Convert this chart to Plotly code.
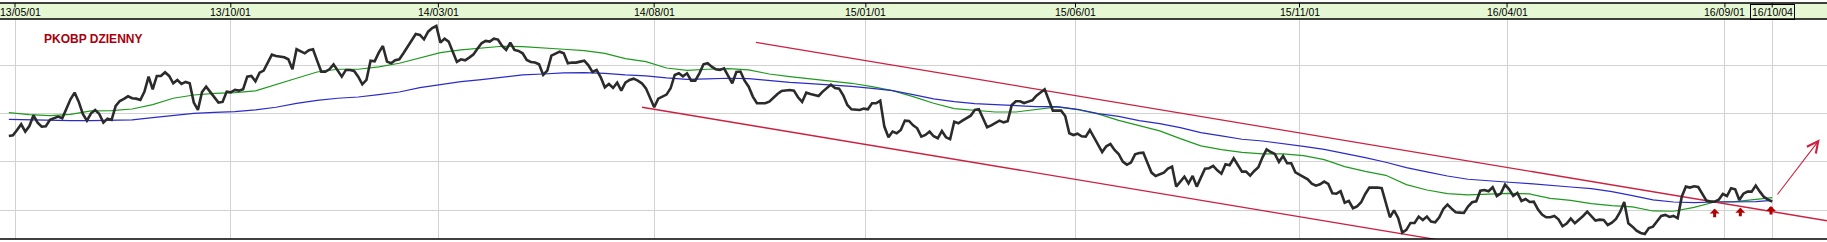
import plotly.graph_objects as go

# ---------------- data ----------------
# x axis = trading-session index (0 = first session of May 2013)
tick_labels = ["13/05/01", "13/10/01", "14/03/01", "14/08/01", "15/01/01",
               "15/06/01", "15/11/01", "16/04/01", "16/09/01", "16/10/04"]
tick_pos = [0, 105, 206, 311, 414, 516, 625, 726, 832, 855]

# closing price, one reading every 2 sessions, sessions -3 .. 855
price_idx = list(range(-3, 856, 2))
price = [
    32.69, 32.76, 33.31, 33.90, 33.14, 33.72, 34.83, 34.07, 33.66, 33.69,
    34.35, 34.55, 34.69, 34.52, 35.55, 36.48, 37.17, 36.24, 34.97, 34.28,
    35.03, 35.38, 34.97, 34.07, 34.48, 34.35, 35.79, 36.31, 36.52, 36.79,
    36.59, 36.55, 36.41, 37.28, 38.83, 37.52, 38.90, 38.90, 39.28, 38.90,
    38.14, 38.48, 38.07, 38.28, 38.14, 36.14, 35.38, 37.24, 37.79, 37.24,
    36.69, 36.14, 36.21, 37.28, 37.21, 37.45, 37.38, 37.52, 38.83, 38.90,
    38.35, 39.24, 39.45, 40.28, 41.10, 40.97, 40.90, 40.83, 40.62, 39.59,
    41.66, 41.41, 41.24, 41.55, 41.66, 40.48, 39.35, 39.35, 39.59, 40.10,
    39.45, 38.83, 39.52, 39.52, 39.41, 38.83, 38.03, 38.48, 40.48, 40.41,
    41.31, 42.00, 40.38, 40.21, 40.52, 40.62, 41.24, 41.93, 42.62, 43.24,
    43.14, 42.69, 43.48, 43.86, 44.07, 42.35, 42.76, 42.45, 41.41, 40.35,
    # 217 ..
    40.62, 40.52, 40.79, 41.10, 41.72, 42.28, 42.52, 42.45, 42.76, 42.66,
    42.00, 41.59, 42.35, 41.59, 41.48, 41.24, 40.55, 40.35, 40.28, 40.10,
    39.00, 39.45, 41.00, 41.17, 41.41, 41.24, 40.21, 40.28, 40.28, 40.38,
    40.48, 40.00, 39.31, 39.52, 38.76, 37.72, 38.07, 37.66, 38.21, 37.38,
    38.21, 38.48, 38.62, 38.41, 38.14, 37.62, 36.59, 35.66, 36.55, 36.72,
    36.97, 37.62, 39.00, 39.17, 38.86, 39.17, 38.41, 38.41, 39.17, 40.10,
    40.21, 39.86, 39.59, 39.52, 39.69, 38.90, 38.14, 39.31, 39.35, 38.41,
    37.79, 36.76, 36.07, 36.07, 36.07, 36.24, 36.69, 37.03, 37.35, 37.41,
    37.45, 37.38, 36.69, 36.21, 37.17, 37.03, 36.93, 36.83, 37.28, 37.62,
    38.00, 37.66, 37.59, 36.90, 35.90, 35.45, 35.38, 35.38, 35.52, 35.45,
    36.07, 36.07, 36.35, 33.66, 32.55, 33.14, 32.97, 33.31, 34.28, 34.24,
    33.79,
    # 439 ..
    33.48, 32.62, 32.79, 33.14, 32.66, 32.45, 33.21, 32.55, 32.35, 34.17,
    34.00, 34.28, 34.55, 34.79, 35.38, 35.45, 34.52, 33.59, 33.79, 34.00,
    34.28, 34.10, 34.21, 35.90, 36.28, 36.28, 36.10, 36.24, 36.38, 36.86,
    37.24, 37.52, 36.41, 35.31, 35.31, 35.31, 34.76, 32.97, 32.79, 32.93,
    32.66, 32.62, 33.31, 32.55, 31.69, 31.03, 31.62, 31.86, 31.24, 30.83,
    30.03, 29.72, 29.93, 30.79, 30.93, 30.97, 29.93, 28.90, 28.55, 28.72,
    28.90, 29.31, 29.52, 27.45, 27.97, 28.48, 27.79, 28.55, 27.45, 28.35,
    29.31, 29.35, 29.59, 29.14, 28.79, 29.76, 29.66, 30.38, 29.72, 29.00,
    29.00, 28.59, 29.07, 29.45, 30.48, 31.31, 31.03, 30.83, 30.00, 30.62,
    29.86, 29.86, 28.93, 28.69, 28.41, 28.21, 27.76, 27.55, 27.69, 27.97,
    27.72, 26.76, 26.72, 26.97, 25.79, 25.97, 25.21, 25.41, 25.83, 26.69,
    27.35,
    # 661 ..
    27.38, 27.35, 27.28, 25.72, 24.28, 25.00, 24.21, 22.69, 22.97, 23.69,
    23.69, 24.35, 24.00, 24.35, 23.83, 23.76, 24.28, 25.14, 25.59, 25.17,
    24.79, 24.76, 24.72, 25.38, 25.83, 25.93, 27.03, 27.10, 26.97, 27.38,
    26.48, 26.76, 27.66, 27.17, 26.48, 26.79, 25.97, 26.17, 25.86, 25.90,
    25.10, 24.55, 24.28, 24.28, 24.41, 24.07, 23.35, 23.62, 24.14, 23.66,
    24.00, 24.41, 24.86, 24.35, 23.93, 24.03, 24.00, 23.48, 23.72, 24.10,
    24.83, 25.86, 23.66, 23.31, 22.90, 22.66, 22.55, 23.17, 23.31, 23.86,
    24.41, 24.52, 24.31, 24.41, 24.17, 26.41, 27.45, 27.35, 27.48, 27.41,
    26.69, 26.00, 25.90, 25.90, 26.10, 26.69, 26.48, 27.28, 27.17, 26.07,
    26.72, 26.93, 26.93, 27.55, 26.93, 26.38, 26.10, 25.90,
]

# moving averages, one reading every 10 sessions
ma_idx = list(range(-3, 848, 10)) + [855]
ma_short = [  # green
    35.10, 34.90, 34.79, 34.93, 35.28, 35.31, 35.48, 35.93, 36.59, 36.93,
    37.10, 37.17, 37.35, 37.97, 38.66, 39.31, 39.59, 39.59, 39.83, 40.21,
    40.72, 41.31,
    41.59, 41.76, 41.97, 41.93, 41.76, 41.66, 41.52, 41.24, 40.69, 40.38,
    39.72, 39.48, 39.59, 39.66, 39.52, 39.10, 38.83, 38.59, 38.38, 38.14,
    37.79, 37.38, 36.76,
    36.07, 35.52, 35.38, 35.17, 35.17, 35.45, 35.69, 35.41, 34.97, 34.31,
    33.72, 33.21, 32.41, 31.66, 31.28, 31.00, 30.83, 30.83, 30.66, 30.24,
    29.52, 29.03,
    28.62, 27.66, 27.10, 26.72, 26.59, 26.69, 26.76, 26.69, 26.24, 26.03,
    25.69, 25.48, 25.35, 24.93, 24.90, 25.31, 25.86, 25.90, 26.17,
    26.31,
]
ma_long = [  # blue
    34.41, 34.35, 34.31, 34.28, 34.28, 34.28, 34.35, 34.59, 34.83, 35.03,
    35.14, 35.21, 35.38, 35.66, 36.07, 36.38, 36.59, 36.72, 36.97, 37.24,
    37.69, 38.03,
    38.31, 38.52, 38.79, 39.00, 39.10, 39.21, 39.24, 39.17, 39.00, 38.90,
    38.69, 38.55, 38.59, 38.66, 38.62, 38.41, 38.24, 38.10, 38.00, 37.83,
    37.62, 37.38, 36.97,
    36.52, 36.24, 36.03, 35.93, 35.79, 35.72, 35.72, 35.45, 35.00, 34.72,
    34.28, 33.97, 33.55, 33.03, 32.69, 32.35, 32.17, 31.93, 31.62, 31.31,
    30.90, 30.45,
    29.97, 29.41, 28.97, 28.55, 28.21, 28.03, 27.90, 27.76, 27.62, 27.41,
    27.24, 26.93, 26.52, 26.07, 25.86, 25.79, 25.86, 25.90, 25.90,
    26.03,
]

# trend channel (two parallel lines)
channel_upper_idx = [360.5, 882.0]
channel_upper_val = [42.38, 23.91]
channel_lower_idx = [305.1, 693.4]
channel_lower_val = [35.66, 21.91]

# breakout markers and forecast arrow
signal_idx = [827.0, 839.5, 854.4]
signal_val = [25.17, 25.27, 25.45]
forecast_idx = [857.0, 878.1]
forecast_val = [26.48, 32.34]

title_text = "PKOBP DZIENNY"

# ---------------- figure ----------------
W, H = 1827, 242
MT, MB = 19, 3
PH = H - MT - MB
GRID = "#d2d2d2"
X_RANGE = [-7.30, 881.67]
LABEL_FONT = dict(family="Liberation Sans Narrow, Arial Narrow, Arial, sans-serif",
                  size=10.5, color="#000000")

fig = go.Figure()
fig.add_trace(go.Scatter(x=ma_idx, y=ma_short, mode="lines",
                         line=dict(color="#1f9a1f", width=1.2), hoverinfo="skip"))
fig.add_trace(go.Scatter(x=ma_idx, y=ma_long, mode="lines",
                         line=dict(color="#2b2bc8", width=1.2), hoverinfo="skip"))
fig.add_trace(go.Scatter(x=channel_upper_idx, y=channel_upper_val, mode="lines",
                         line=dict(color="#cc2040", width=1.3), hoverinfo="skip"))
fig.add_trace(go.Scatter(x=channel_lower_idx, y=channel_lower_val, mode="lines",
                         line=dict(color="#cc2040", width=1.3), hoverinfo="skip"))
fig.add_trace(go.Scatter(x=price_idx, y=price, mode="lines",
                         line=dict(color="#2b2b2b", width=2.6), hoverinfo="skip"))

hdr_top = 1 + 16 / PH
shapes = [
    dict(type="rect", xref="paper", yref="paper", x0=0, x1=1, y0=1, y1=hdr_top,
         fillcolor="#e6f7d4", line=dict(width=0), layer="above"),
    dict(type="line", xref="paper", yref="paper", x0=0, x1=1, y0=hdr_top, y1=hdr_top,
         line=dict(color="#000000", width=1.3), layer="above"),
    dict(type="line", xref="paper", yref="paper", x0=0, x1=1, y0=1, y1=1,
         line=dict(color="#000000", width=1.3), layer="above"),
    dict(type="line", xref="paper", yref="paper", x0=0, x1=1, y0=0, y1=0,
         line=dict(color="#000000", width=1.6), layer="above"),
]
for p in tick_pos:
    shapes.append(dict(type="line", xref="x", yref="paper", x0=p, x1=p,
                       y0=hdr_top, y1=hdr_top - 4.5 / PH,
                       line=dict(color="#000000", width=1), layer="above"))

annotations = []
for k, (p, lab) in enumerate(zip(tick_pos, tick_labels)):
    boxed = (k == len(tick_labels) - 1)
    first = (k == 0)
    annotations.append(dict(
        x=X_RANGE[0] if first else p, y=1 + 7 / PH, xref="x", yref="paper",
        text=lab, showarrow=False,
        xanchor="left" if first else "center", yanchor="middle",
        font=LABEL_FONT,
        bordercolor="#000000" if boxed else "rgba(0,0,0,0)",
        borderwidth=1 if boxed else 0, borderpad=1 if boxed else 0,
    ))

annotations.append(dict(
    x=93 / W, y=(H - MB - 38.7) / PH, xref="paper", yref="paper",
    text=title_text, showarrow=False, xanchor="center", yanchor="middle",
    font=dict(family="Arial, Liberation Sans, sans-serif", size=12,
              color="#a8000c", weight="bold"),
))

for sx, sy in zip(signal_idx, signal_val):
    annotations.append(dict(
        x=sx, y=sy, xref="x", yref="y", text="", showarrow=True,
        ax=0, ay=10, arrowhead=1, arrowsize=0.55, arrowwidth=3,
        arrowcolor="#b00000",
    ))

annotations.append(dict(
    x=forecast_idx[1], y=forecast_val[1], ax=forecast_idx[0], ay=forecast_val[0],
    xref="x", yref="y", axref="x", ayref="y", text="", showarrow=True,
    arrowhead=5, arrowsize=2, arrowwidth=1.1, arrowcolor="#cc2040",
))

fig.update_layout(
    width=W, height=H,
    margin=dict(l=0, r=0, t=MT, b=MB, pad=0),
    paper_bgcolor="#ffffff", plot_bgcolor="#ffffff",
    showlegend=False,
    xaxis=dict(range=X_RANGE, tickmode="array", tickvals=tick_pos,
               showticklabels=False, ticks="", showgrid=True, gridcolor=GRID,
               gridwidth=1, zeroline=False, showline=False, fixedrange=True),
    yaxis=dict(range=[22.03, 44.79], tickmode="array", tickvals=[25, 30, 35, 40],
               showticklabels=False, ticks="", showgrid=True, gridcolor=GRID,
               gridwidth=1, zeroline=False, showline=False, fixedrange=True),
    shapes=shapes,
    annotations=annotations,
)

fig.write_html("out.html", config={"displayModeBar": False})
